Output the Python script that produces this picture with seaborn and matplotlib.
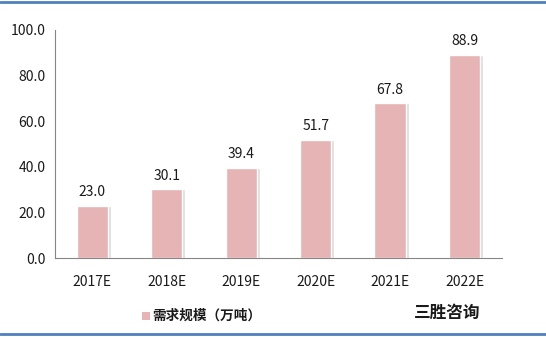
import matplotlib
matplotlib.use("Agg")
import matplotlib.pyplot as plt
import seaborn as sns
import pandas as pd
from matplotlib.patches import Rectangle

years = ["2017E", "2018E", "2019E", "2020E", "2021E", "2022E"]
values = [23.0, 30.1, 39.4, 51.7, 67.8, 88.9]
legend_label = "需求规模（万吨）"
brand = "三胜咨询"

sns.set_theme(style="white")
plt.rcParams['font.family'] = ['Noto Sans CJK SC', 'DejaVu Sans']

df = pd.DataFrame({"year": years, "value": values})

fig = plt.figure(figsize=(5.46, 3.37), dpi=100)
ax = fig.add_axes([0.1007, 0.234, 0.8183, 0.677])

# shadow bars
ax.bar([i + 0.04 for i in range(len(years))], values, width=0.42, color="#DCDCDC", zorder=1)
sns.barplot(data=df, x="year", y="value", color="#E6B4B4", saturation=1, width=0.42, ax=ax, zorder=2)

ax.set_ylim(0, 100)
ax.set_xlim(-0.5, len(years) - 0.5)
ax.set_yticks([0, 20, 40, 60, 80, 100])
ax.set_yticklabels([f"{v:.1f}" for v in [0, 20, 40, 60, 80, 100]], fontsize=10, color="#1a1a1a")
ax.set_xticks([i for i in range(len(years))])
ax.set_xticklabels(years, fontsize=10, color="#1a1a1a")
ax.set_xlabel("")
ax.set_ylabel("")
for s in ["top", "right"]:
    ax.spines[s].set_visible(False)
for s in ["left", "bottom"]:
    ax.spines[s].set_color("#868686")
    ax.spines[s].set_linewidth(0.8)
ax.set_xticks([i - 0.5 for i in range(len(years) + 1)], minor=True)
ax.tick_params(axis="x", which="major", length=0, pad=12)
ax.tick_params(axis="x", which="minor", length=4, color="#868686", direction="out")
ax.tick_params(axis="y", length=4, color="#868686", direction="out", pad=3)

for i, v in enumerate(values):
    ax.text(i, v + 3, f"{v:.1f}", ha="center", va="bottom", fontsize=10, color="#1a1a1a")

# legend
fig.patches.append(Rectangle((142/546, 1 - 320/337), 8/546, 8/337, transform=fig.transFigure,
                             facecolor="#E6B4B4", edgecolor="none"))
fig.text(152/546, 1 - 316/337, legend_label, fontsize=9.8, fontweight="bold", va="center", ha="left",
         color="#1a1a1a")
fig.text(447/546, 1 - 313/337, brand, fontsize=12, fontweight="bold", va="center", ha="center",
         color="#1a1a1a")

# border lines
fig.add_artist(plt.Line2D([0, 1], [1 - 2/337, 1 - 2/337], transform=fig.transFigure, color="#4F81BD", lw=2))
fig.add_artist(plt.Line2D([0, 1], [1 - 334/337, 1 - 334/337], transform=fig.transFigure, color="#4F81BD", lw=2))

fig.savefig("out.png", dpi=100)
